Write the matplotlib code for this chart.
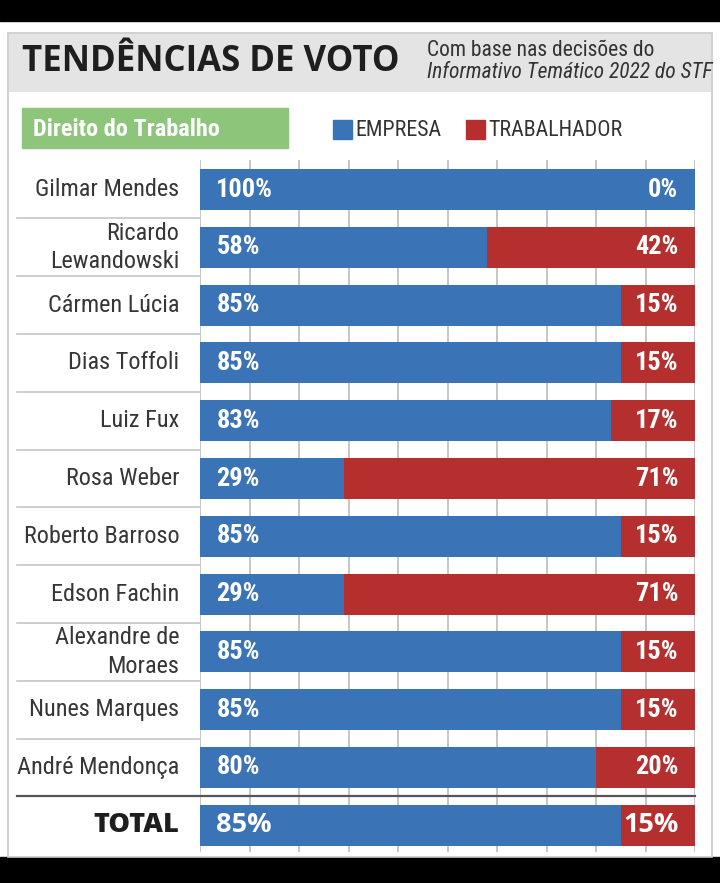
import matplotlib.pyplot as plt
from matplotlib.patches import Rectangle

names = ["Gilmar Mendes", "Ricardo\nLewandowski", "Cármen Lúcia", "Dias Toffoli",
         "Luiz Fux", "Rosa Weber", "Roberto Barroso", "Edson Fachin",
         "Alexandre de\nMoraes", "Nunes Marques", "André Mendonça", "TOTAL"]
empresa = [100, 58, 85, 85, 83, 29, 85, 29, 85, 85, 80, 85]
trabalhador = [0, 42, 15, 15, 17, 71, 15, 71, 15, 15, 20, 15]

BLUE = "#3a73b6"
RED = "#b52f2f"
GREEN = "#8dc57a"
NARROW = ["Roboto Condensed", "DejaVu Sans"]
WIDE = ["Open Sans", "DejaVu Sans"]

W, H = 720, 883
fig = plt.figure(figsize=(W / 100, H / 100), dpi=100)
fig.patch.set_facecolor("white")


def fx(x):
    return x / W


def fy(y):
    return 1 - y / H


def rect(x0, y0, x1, y1, **kw):
    fig.patches.append(Rectangle((fx(x0), fy(y1)), fx(x1) - fx(x0), fy(y0) - fy(y1),
                                 transform=fig.transFigure, **kw))


# black bands of the screenshot
rect(0, 0, 720, 21, color="black", zorder=0)
rect(0, 857, 720, 883, color="black", zorder=0)
# card border and header
rect(8, 33, 712, 857, facecolor="white", edgecolor="#c9c9c9", lw=1.2, zorder=0)
rect(8.6, 33.6, 711.4, 92, facecolor="#e4e4e4", edgecolor="none", zorder=0)

fig.text(fx(22), fy(62), "TENDÊNCIAS DE VOTO", fontsize=25, fontweight="bold",
         family=WIDE, color="#1e1e1e", va="center", ha="left")
fig.text(fx(427), fy(50), "Com base nas decisões do", fontsize=15.5, family=NARROW,
         fontstretch="condensed", color="#333333", va="center", ha="left")
fig.text(fx(427), fy(72), "Informativo Temático 2022 do STF", fontsize=15.5,
         family=NARROW, fontstretch="condensed", style="italic", color="#333333",
         va="center", ha="left")

# section box and legend
rect(22, 108, 288, 148, color=GREEN, zorder=1)
fig.text(fx(33), fy(129), "Direito do Trabalho", fontsize=17.5, family=NARROW,
         fontstretch="condensed", fontweight="bold", color="white", va="center", ha="left")
rect(333, 120, 352, 139, color=BLUE, zorder=1)
fig.text(fx(355), fy(130), "EMPRESA", fontsize=15.8, family=NARROW, fontstretch="condensed",
         color="#333333", va="center", ha="left")
rect(466, 120, 485, 139, color=RED, zorder=1)
fig.text(fx(488), fy(130), "TRABALHADOR", fontsize=15.8, family=NARROW,
         fontstretch="condensed", color="#333333", va="center", ha="left")

# bar area: x 0..100 -> px 200..695, rows centred at 189.5 + i*57.8
pitch = 57.8
top_px, bot_px = 160, 852
ax = fig.add_axes([fx(200), fy(bot_px), fx(695) - fx(200), fy(top_px) - fy(bot_px)])
ax.set_zorder(5)
ax.patch.set_alpha(0)
ax.set_xlim(0, 100)
ax.set_ylim((bot_px - 189.5) / pitch, (top_px - 189.5) / pitch)
ax.axis("off")

for g in range(0, 101, 10):
    ax.axvline(g, color="#c6c6c6", lw=1.4, zorder=0)

rows = range(len(names))
ax.barh(rows, empresa, height=0.71, color=BLUE, zorder=2)
ax.barh(rows, trabalhador, left=empresa, height=0.71, color=RED, zorder=2)

n = len(names)
for i in rows:
    if i == n - 1:
        ax.text(3.2, i, f"{empresa[i]}%", color="white", va="center", ha="left",
                fontsize=19.5, fontweight="bold", family=WIDE, zorder=3)
        ax.text(96.8, i, f"{trabalhador[i]}%", color="white", va="center", ha="right",
                fontsize=19.5, fontweight="bold", family=WIDE, zorder=3)
        ax.text(-4.2, i, names[i], va="center", ha="right", fontsize=19.5,
                fontweight="heavy", family=WIDE, color="#1e1e1e", clip_on=False)
    else:
        ax.text(3.3, i, f"{empresa[i]}%", color="white", va="center", ha="left",
                fontsize=19, fontweight="semibold", family=NARROW, fontstretch="condensed",
                zorder=3)
        ax.text(96.6, i, f"{trabalhador[i]}%", color="white", va="center", ha="right",
                fontsize=19, fontweight="semibold", family=NARROW, fontstretch="condensed",
                zorder=3)
        ax.text(-4.2, i, names[i], va="center", ha="right", fontsize=17.5,
                family=NARROW, fontstretch="condensed", color="#363636",
                linespacing=1.3, clip_on=False)

# row separators on the label side, darker rule above TOTAL
for i in range(n - 2):
    ax.plot([-37, 0], [i + 0.5, i + 0.5], color="#c6c6c6", lw=1.2, clip_on=False, zorder=1)
ax.plot([-37, 100], [n - 1.5, n - 1.5], color="#555555", lw=1.6, clip_on=False, zorder=1)

fig.savefig("out.png", dpi=100, facecolor=fig.get_facecolor())
